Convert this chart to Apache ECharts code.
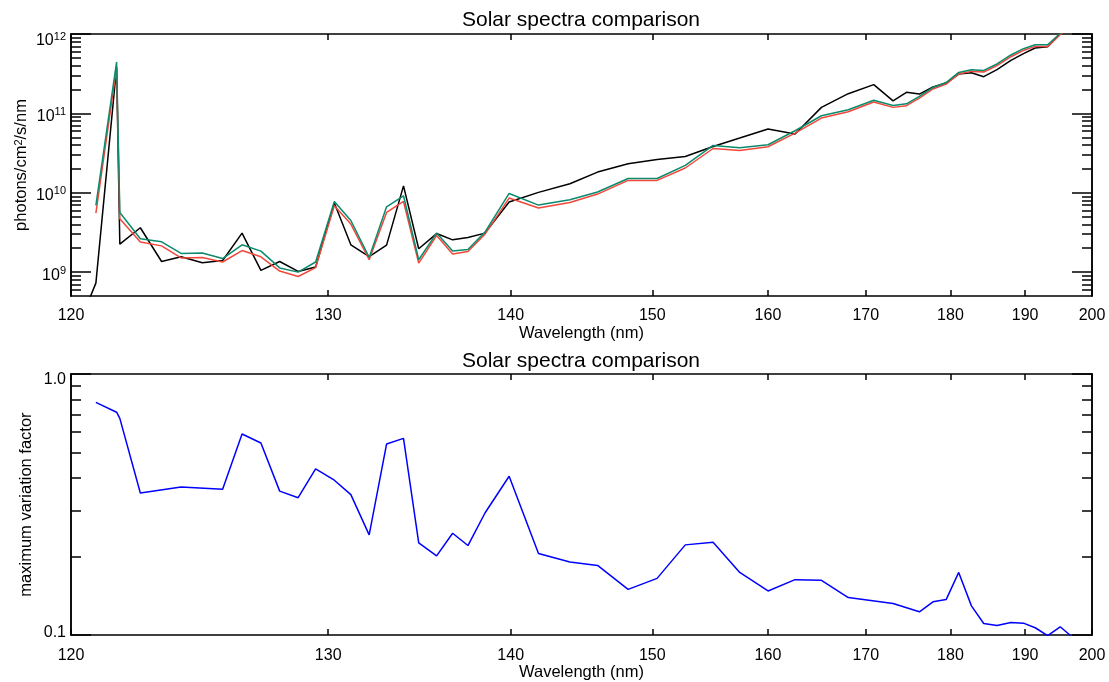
<!DOCTYPE html>
<html>
<head>
<meta charset="utf-8">
<script src="https://cdn.jsdelivr.net/npm/echarts@6/dist/echarts.min.js"></script>
<style>
  html, body { margin: 0; padding: 0; background: #ffffff; }
  #chart { width: 1109px; height: 682px; }
</style>
</head>
<body>
<div id="chart"></div>
<script>
// Wavelength grid (nm) shared by the three spectra
const wavelength = [120.58, 120.80, 121.49, 121.60, 122.31, 123.07, 123.79, 124.60, 125.40, 126.19,
  126.98, 127.79, 128.61, 129.41, 130.29, 131.09, 132.00, 132.89, 133.78, 134.60,
  135.59, 136.50, 137.39, 138.41, 139.90, 141.79, 143.91, 145.87, 148.13, 150.38,
  152.67, 155.03, 157.39, 160.01, 162.62, 165.28, 168.10, 170.89, 173.08, 174.64,
  176.18, 177.83, 179.46, 181.05, 182.69, 184.31, 186.09, 188.00, 189.76, 191.43,
  193.25, 195.11, 196.80, 198.86];

// Spectral irradiance, photons/cm^2/s/nm
const spectrumBlack = [4.5e8, 7.26e8, 3.8e11, 2.25e9, 3.62e9, 1.36e9, 1.56e9, 1.31e9, 1.40e9, 3.10e9,
  1.05e9, 1.36e9, 1.02e9, 1.16e9, 7.41e9, 2.21e9, 1.57e9, 2.19e9, 1.22e10, 1.97e9,
  3.06e9, 2.55e9, 2.73e9, 3.10e9, 7.63e9, 1.01e10, 1.30e10, 1.82e10, 2.32e10, 2.63e10,
  2.86e10, 3.83e10, 4.89e10, 6.35e10, 5.49e10, 1.19e11, 1.77e11, 2.30e11, 1.44e11, 1.84e11,
  1.75e11, 2.15e11, 2.41e11, 3.13e11, 3.25e11, 2.90e11, 3.55e11, 4.65e11, 5.65e11, 6.66e11,
  6.9e11, 1.0e12, 1.35e12, 1.8e12];

const spectrumRed = [null, 5.54e9, 3.79e11, 4.69e9, 2.39e9, 2.14e9, 1.51e9, 1.53e9, 1.34e9, 1.87e9,
  1.56e9, 1.03e9, 8.80e8, 1.14e9, 6.85e9, 4.03e9, 1.43e9, 5.64e9, 7.76e9, 1.30e9,
  2.89e9, 1.69e9, 1.82e9, 3.01e9, 8.57e9, 6.41e9, 7.54e9, 9.62e9, 1.43e10, 1.43e10,
  2.05e10, 3.61e10, 3.41e10, 3.80e10, 5.65e10, 8.73e10, 1.05e11, 1.39e11, 1.19e11, 1.25e11,
  1.56e11, 2.03e11, 2.34e11, 3.13e11, 3.38e11, 3.32e11, 3.99e11, 5.17e11, 6.21e11, 6.98e11,
  6.98e11, 0.98e12, 1.3e12, 1.75e12];

const spectrumGreen = [null, 6.91e9, 4.44e11, 5.64e9, 2.63e9, 2.41e9, 1.72e9, 1.74e9, 1.48e9, 2.21e9,
  1.84e9, 1.13e9, 1.00e9, 1.34e9, 7.76e9, 4.47e9, 1.53e9, 6.65e9, 9.16e9, 1.43e9,
  3.10e9, 1.85e9, 1.93e9, 3.19e9, 9.79e9, 6.99e9, 8.15e9, 1.02e10, 1.51e10, 1.51e10,
  2.21e10, 3.94e10, 3.69e10, 4.02e10, 6.04e10, 9.33e10, 1.11e11, 1.46e11, 1.26e11, 1.32e11,
  1.64e11, 2.12e11, 2.45e11, 3.28e11, 3.55e11, 3.48e11, 4.19e11, 5.44e11, 6.53e11, 7.33e11,
  7.33e11, 1.02e12, 1.35e12, 1.8e12];

// Maximum variation factor between the spectra
const factorWavelength = [120.80, 121.49, 121.60, 122.31, 123.79, 125.40, 126.19, 126.98, 127.79, 128.61,
  129.41, 130.29, 131.09, 132.00, 132.89, 133.78, 134.60, 135.59, 136.50, 137.39,
  138.41, 139.90, 141.79, 143.91, 145.87, 148.13, 150.38, 152.67, 155.03, 157.39,
  160.01, 162.62, 165.28, 168.10, 173.08, 176.18, 177.83, 179.46, 181.05, 182.69,
  184.31, 186.09, 188.00, 189.76, 191.43, 193.25, 195.11, 196.80, 198.86];
const variationFactor = [0.779, 0.714, 0.676, 0.350, 0.369, 0.362, 0.589, 0.544, 0.356, 0.336,
  0.433, 0.392, 0.345, 0.242, 0.539, 0.567, 0.2256, 0.2012, 0.2456, 0.2203,
  0.2935, 0.406, 0.2054, 0.1905, 0.1848, 0.1497, 0.1649, 0.2216, 0.227, 0.1738,
  0.1476, 0.1631, 0.1621, 0.1392, 0.1321, 0.1228, 0.1341, 0.1368, 0.1738, 0.1294,
  0.1108, 0.1089, 0.1118, 0.1111, 0.1067, 0.0995, 0.1076, 0.099, 0.088];

// Tick values
const wavelengthTicks = [120, 130, 140, 150, 160, 170, 180, 190, 200];
const fluxMajorTicks = [1e9, 1e10, 1e11, 1e12];
const fluxMinorTicks = [6e8, 7e8, 8e8, 9e8,
  2e9, 3e9, 4e9, 5e9, 6e9, 7e9, 8e9, 9e9,
  2e10, 3e10, 4e10, 5e10, 6e10, 7e10, 8e10, 9e10,
  2e11, 3e11, 4e11, 5e11, 6e11, 7e11, 8e11, 9e11];
const factorMajorTicks = [0.1, 1.0];
const factorMinorTicks = [0.2, 0.3, 0.4, 0.5, 0.6, 0.7, 0.8, 0.9];

// The wavelength axis is logarithmic in (lambda - 100 nm)
const WAVE_OFFSET = 100;
const toAxis = lam => lam - WAVE_OFFSET;

const FONT = 'Liberation Sans, Arial, Helvetica, sans-serif';
const INK = '#000000';

function pairs(xs, ys) {
  return xs.map((x, i) => [toAxis(x), ys[i]]);
}

function wavelengthAxes(gridIndex) {
  const common = {
    type: 'log', logBase: 10, gridIndex,
    min: toAxis(120), max: toAxis(200),
    axisLine: { show: true, lineStyle: { color: INK, width: 1.5 } },
    splitLine: { show: false },
    minorTick: { show: false }
  };
  const ticks = { show: true, inside: true, length: 6, customValues: wavelengthTicks.map(toAxis),
    lineStyle: { color: INK, width: 1.5 } };
  return [
    Object.assign({}, common, {
      position: 'bottom',
      axisTick: ticks,
      axisLabel: { show: true, customValues: wavelengthTicks.map(toAxis), margin: 12,
        color: INK, fontSize: 16, fontFamily: FONT,
        formatter: v => String(Math.round(v + WAVE_OFFSET)) },
      name: 'Wavelength (nm)', nameLocation: 'middle', nameGap: 25,
      nameTextStyle: { color: INK, fontSize: 16.5, fontFamily: FONT }
    }),
    Object.assign({}, common, {
      position: 'top',
      axisTick: ticks,
      axisLabel: { show: false }
    })
  ];
}

function valueAxes(gridIndex, min, max, major, minor, labelCfg, nameCfg) {
  const common = {
    type: 'log', logBase: 10, gridIndex, min, max,
    axisLine: { show: true, lineStyle: { color: INK, width: 1.5 } },
    splitLine: { show: false },
    minorTick: { show: false }
  };
  const majorTick = { show: true, inside: true, length: 20, customValues: major,
    lineStyle: { color: INK, width: 1.5 } };
  const minorTick = { show: true, inside: true, length: 10, customValues: minor,
    lineStyle: { color: INK, width: 1.5 } };
  return [
    Object.assign({}, common, nameCfg, { position: 'left', axisTick: majorTick,
      axisLabel: Object.assign({ show: true, customValues: major, margin: 5,
        color: INK, fontSize: 16, fontFamily: FONT }, labelCfg) }),
    Object.assign({}, common, { position: 'left', axisTick: minorTick, axisLabel: { show: false } }),
    Object.assign({}, common, { position: 'right', axisTick: majorTick, axisLabel: { show: false } }),
    Object.assign({}, common, { position: 'right', axisTick: minorTick, axisLabel: { show: false } })
  ];
}

// Powers of ten with a raised exponent; the top label gets a spacer line so it sits lower
const powerLabel = {
  padding: [6, 0, 0, 0],
  formatter: v => {
    const e = Math.round(Math.log10(v));
    const body = '{b|10}{s|' + e + '}';
    return e === 12 ? '{gap| }\n' + body : body;
  },
  rich: {
    b: { fontSize: 16, lineHeight: 20, color: INK, fontFamily: FONT },
    s: { fontSize: 11, lineHeight: 11, verticalAlign: 'top', color: INK, fontFamily: FONT },
    gap: { fontSize: 2, lineHeight: 8 }
  }
};

const factorLabel = {
  formatter: v => (v >= 1 ? '{hi|' : '{lo|') + v.toFixed(1) + '}',
  rich: {
    hi: { fontSize: 16, color: INK, fontFamily: FONT, padding: [12, 0, 0, 0] },
    lo: { fontSize: 16, color: INK, fontFamily: FONT, padding: [0, 0, 5, 0] }
  }
};

const titleStyle = { color: INK, fontSize: 21, fontWeight: 'normal', fontFamily: FONT };

const option = {
  animation: false,
  backgroundColor: '#ffffff',
  title: [
    { text: 'Solar spectra comparison', left: 581, top: 10, textAlign: 'center', padding: 0,
      textStyle: titleStyle },
    { text: 'Solar spectra comparison', left: 581, top: 351, textAlign: 'center', padding: 0,
      textStyle: titleStyle }
  ],
  grid: [
    { left: 71, right: 17, top: 34, height: 262, containLabel: false },
    { left: 71, right: 17, top: 374, height: 263, containLabel: false }
  ],
  xAxis: wavelengthAxes(0).concat(wavelengthAxes(1)),
  yAxis: valueAxes(0, 5e8, 1e12, fluxMajorTicks, fluxMinorTicks, powerLabel, {
    name: 'photons/cm{sup|2}/s/nm', nameLocation: 'middle', nameGap: 41, nameMoveOverlap: false,
    nameTextStyle: { color: INK, fontSize: 16.5, fontFamily: FONT,
      rich: { sup: { fontSize: 11, verticalAlign: 'top', color: INK, fontFamily: FONT } } }
  }).concat(valueAxes(1, 0.1, 1.0, factorMajorTicks, factorMinorTicks, factorLabel, {
    name: 'maximum variation factor', nameLocation: 'middle', nameGap: 36, nameMoveOverlap: false,
    nameTextStyle: { color: INK, fontSize: 16.5, fontFamily: FONT }
  })),
  series: [
    { type: 'line', xAxisIndex: 0, yAxisIndex: 0, data: pairs(wavelength, spectrumBlack),
      symbol: 'none', lineStyle: { color: '#000000', width: 1.5 }, clip: true },
    { type: 'line', xAxisIndex: 0, yAxisIndex: 0, data: pairs(wavelength, spectrumRed),
      symbol: 'none', lineStyle: { color: '#f2483b', width: 1.5 }, clip: true },
    { type: 'line', xAxisIndex: 0, yAxisIndex: 0, data: pairs(wavelength, spectrumGreen),
      symbol: 'none', lineStyle: { color: '#0b8a6c', width: 1.5 }, clip: true },
    { type: 'line', xAxisIndex: 2, yAxisIndex: 4, data: pairs(factorWavelength, variationFactor),
      symbol: 'none', lineStyle: { color: '#0000ff', width: 1.5 }, clip: true }
  ]
};

const chart = echarts.init(document.getElementById('chart'), null, { renderer: 'canvas' });
chart.setOption(option);
</script>
</body>
</html>
